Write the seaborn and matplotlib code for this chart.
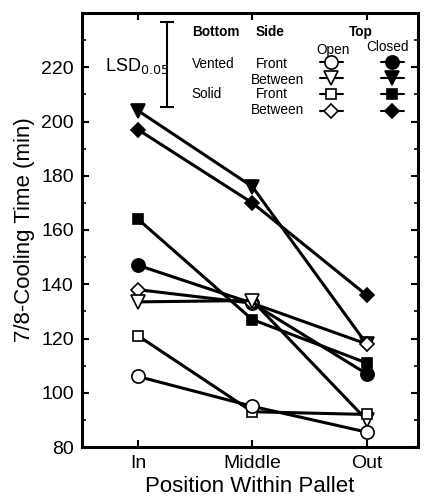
import matplotlib
matplotlib.use("Agg")
import matplotlib.pyplot as plt
import matplotlib.transforms as mtransforms
from matplotlib.lines import Line2D
import seaborn as sns
import pandas as pd

# positions along the pallet
positions = ['In', 'Middle', 'Out']

# 7/8 cooling time (min) for each bottom/side/top combination
vented_front_closed = [147, 133, 107]
vented_between_closed = [204, 176, 118]
solid_front_closed = [164, 127, 111]
solid_between_closed = [197, 170, 136]
solid_between_open = [138, 133, 118]
vented_between_open = [133.5, 134, 90]
solid_front_open = [121, 93, 92]
vented_front_open = [106, 95, 85.5]

lsd_value = 31
lsd_center = 221

series = [
    ('Vented Front Closed', vented_front_closed, 'o', 'black', 9.5),
    ('Vented Between Closed', vented_between_closed, 'v', 'black', 9.5),
    ('Solid Front Closed', solid_front_closed, 's', 'black', 7.5),
    ('Solid Between Closed', solid_between_closed, 'D', 'black', 7),
    ('Solid Between Open', solid_between_open, 'D', 'white', 7),
    ('Vented Between Open', vented_between_open, 'v', 'white', 9.5),
    ('Solid Front Open', solid_front_open, 's', 'white', 7.5),
    ('Vented Front Open', vented_front_open, 'o', 'white', 9.5),
]

sns.set_style('ticks')
plt.rcParams['font.family'] = ['Liberation Sans', 'DejaVu Sans']
plt.rcParams['text.color'] = 'black'
plt.rcParams['axes.labelcolor'] = 'black'
plt.rcParams['xtick.color'] = 'black'
plt.rcParams['ytick.color'] = 'black'
plt.rcParams['axes.edgecolor'] = 'black'

fig = plt.figure(figsize=(4.25, 4.97), dpi=100)
ax = fig.add_axes([82 / 425, 1 - 447 / 497, 336 / 425, 434 / 497])

for name, vals, mk, fc, ms in series:
    df = pd.DataFrame({'pos': positions, 'time': vals})
    sns.lineplot(data=df, x='pos', y='time', sort=False, ax=ax, color='black',
                 linewidth=2.2, marker=mk, markersize=ms, markerfacecolor=fc,
                 markeredgecolor='black', markeredgewidth=1.2)

ax.set_xlim(-0.49, 2.45)
ax.set_ylim(80, 240)
ax.set_yticks(range(80, 221, 20))
ax.set_yticks(range(90, 241, 10), minor=True)
ax.set_xlabel('Position Within Pallet', fontsize=16, labelpad=3)
ax.set_ylabel('7/8-Cooling Time (min)', fontsize=16, labelpad=4)
ax.tick_params(axis='both', which='major', direction='in', length=5, width=1.5,
               labelsize=14, top=True, right=True, pad=6)
ax.tick_params(axis='y', which='minor', direction='in', length=3, width=1.2, right=True)
for sp in ax.spines.values():
    sp.set_linewidth(2.2)
    sp.set_color('black')

# LSD bar
trans = mtransforms.blended_transform_factory(ax.transAxes, ax.transData)
ax.errorbar([0.253], [lsd_center], yerr=[lsd_value / 2], transform=trans, color='black',
            linewidth=1.5, capsize=5, capthick=1.5)
ax.text(0.068, 0.878, r'LSD$_{0.05}$', transform=ax.transAxes, fontsize=13, va='center')

# legend table text
fs = 9.8
ax.text(0.327, 0.957, 'Bottom', transform=ax.transAxes, fontsize=fs, weight='bold', va='center')
ax.text(0.518, 0.957, 'Side', transform=ax.transAxes, fontsize=fs, weight='bold', va='center')
ax.text(0.830, 0.957, 'Top', transform=ax.transAxes, fontsize=fs, weight='bold', va='center', ha='center')
ax.text(0.747, 0.915, 'Open', transform=ax.transAxes, fontsize=fs, va='center', ha='center')
ax.text(0.908, 0.922, 'Closed', transform=ax.transAxes, fontsize=fs, va='center', ha='center')
row_y = [0.882, 0.845, 0.814, 0.776]
ax.text(0.327, row_y[0], 'Vented', transform=ax.transAxes, fontsize=fs, va='center')
ax.text(0.327, row_y[2], 'Solid', transform=ax.transAxes, fontsize=fs, va='center')
for ry, side in zip(row_y, ['Front', 'Between', 'Front', 'Between']):
    x0 = 0.518 if side == 'Front' else 0.503
    ax.text(x0, ry, side, transform=ax.transAxes, fontsize=fs, va='center')

# legend symbols
def key(mk, fc, ms):
    return Line2D([], [], color='black', linewidth=1.5, marker=mk, markersize=ms,
                  markerfacecolor=fc, markeredgecolor='black', markeredgewidth=1.2)

order = [('o', 'white', 9.5), ('v', 'white', 9.5), ('s', 'white', 7.5), ('D', 'white', 7),
         ('o', 'black', 9.5), ('v', 'black', 9.5), ('s', 'black', 7.5), ('D', 'black', 7)]
handles = [key(*o) for o in order]
ax.legend(handles, [''] * 8, ncol=2, loc='upper left', bbox_to_anchor=(0.707, 0.902),
          frameon=False, borderpad=0, fontsize=fs, handlelength=1.7, handletextpad=0,
          columnspacing=2.8, labelspacing=0.17, borderaxespad=0)

fig.savefig('out.png', dpi=100)
